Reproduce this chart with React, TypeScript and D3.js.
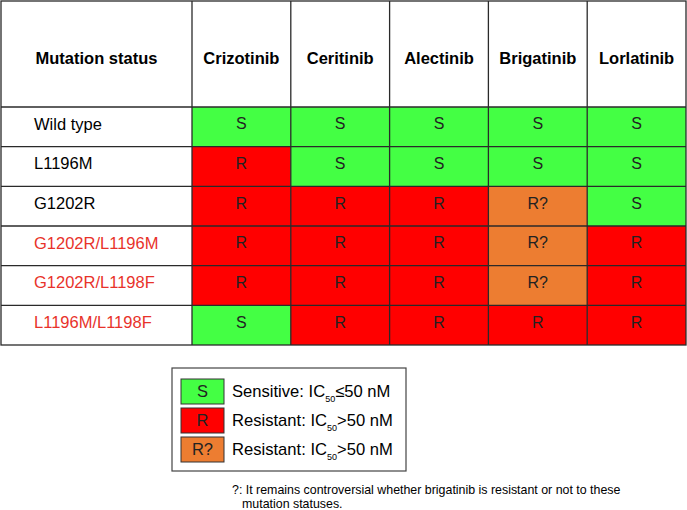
import React from "react";
import * as d3 from "d3";

const drugs = ["Crizotinib", "Ceritinib", "Alectinib", "Brigatinib", "Lorlatinib"];
const mutations = ["Wild type", "L1196M", "G1202R", "G1202R/L1196M", "G1202R/L1198F", "L1196M/L1198F"];
const compound = [false, false, false, true, true, true];
const statuses: string[][] = [
  ["S", "S", "S", "S", "S"],
  ["R", "S", "S", "S", "S"],
  ["R", "R", "R", "R?", "S"],
  ["R", "R", "R", "R?", "R"],
  ["R", "R", "R", "R?", "R"],
  ["S", "R", "R", "R", "R"],
];
const legendKeys = ["S", "R", "R?"];
const legendLabels = ["Sensitive: IC", "Resistant: IC", "Resistant: IC"];
const legendOps = ["≤50 nM", ">50 nM", ">50 nM"];
const footnoteLines = [
  "?: It remains controversial whether brigatinib is resistant or not to these",
  "mutation statuses.",
];

const colorOf: Record<string, string> = { S: "#44ff44", R: "#ff0000", "R?": "#ed7d31" };
const FONT = "'Liberation Sans', Arial, sans-serif";

export default function App() {
  const W = 687, H = 510;
  const left = 1, labelRight = 192, right = 686;
  const top = 1, headBottom = 107, bottom = 345;
  const x = d3.scaleBand<string>().domain(drugs).range([labelRight, right]);
  const y = d3.scaleBand<string>().domain(mutations).range([headBottom, bottom]);
  const ly = d3.scaleBand<string>().domain(legendKeys).range([379, 462]).paddingInner(4 / 29);
  const lineColor = "#2a2a2a";
  const headY = 58;
  const rowOff = -3;

  return (
    <div style={{ position: "absolute", left: 0, top: 0 }}>
      <svg width={W} height={H} style={{ display: "block", background: "#fff", fontFamily: FONT }}>
        {/* cells */}
        {mutations.map((m, i) =>
          drugs.map((d, j) => (
            <rect key={m + d} x={x(d)} y={y(m)} width={x.bandwidth()} height={y.bandwidth()}
              fill={colorOf[statuses[i][j]]} />
          ))
        )}
        {/* grid lines */}
        <rect x={left} y={top} width={right - left} height={bottom - top} fill="none" stroke={lineColor} strokeWidth={1.3} />
        {[headBottom, ...mutations.slice(1).map((m) => y(m)!)].map((yy, i) => (
          <line key={"h" + i} x1={left} x2={right} y1={yy} y2={yy} stroke={lineColor} strokeWidth={1.3} />
        ))}
        {drugs.map((d) => (
          <line key={"v" + d} x1={x(d)} x2={x(d)} y1={top} y2={bottom} stroke={lineColor} strokeWidth={1.3} />
        ))}
        {/* header */}
        <text x={(left + labelRight) / 2} y={headY} dy="0.35em" textAnchor="middle"
          fontWeight="bold" fontSize={16.5} fill="#000">Mutation status</text>
        {drugs.map((d) => (
          <text key={"t" + d} x={x(d)! + x.bandwidth() / 2} y={headY} dy="0.35em"
            textAnchor="middle" fontWeight="bold" fontSize={16.5} fill="#000">{d}</text>
        ))}
        {/* row labels */}
        {mutations.map((m, i) => (
          <text key={"r" + m} x={34} y={y(m)! + y.bandwidth() / 2 + rowOff} dy="0.35em" fontSize={16.5}
            fill={compound[i] ? "#e8322a" : "#000"}>{m}</text>
        ))}
        {/* cell letters */}
        {mutations.map((m, i) =>
          drugs.map((d, j) => (
            <text key={"c" + m + d} x={x(d)! + x.bandwidth() / 2} y={y(m)! + y.bandwidth() / 2 + rowOff} dy="0.35em"
              textAnchor="middle" fontSize={16} fill="#222">{statuses[i][j]}</text>
          ))
        )}
        {/* legend */}
        <rect x={172} y={368} width={234} height={103} fill="#fff" stroke="#444" strokeWidth={1.2} />
        {legendKeys.map((k, i) => {
          const base = ly(k)! + ly.bandwidth() / 2 + 5;
          return (
            <g key={"l" + k}>
              <rect x={181} y={ly(k)} width={43} height={ly.bandwidth()} fill={colorOf[k]} stroke="#333" strokeWidth={1} />
              <text x={202.5} y={ly(k)! + ly.bandwidth() / 2} dy="0.35em" textAnchor="middle" fontSize={16.5} fill="#222">{k}</text>
              <text x={232} y={base} fontSize={16.6} fill="#000">
                {legendLabels[i]}
                <tspan fontSize={9} dy={5}>50</tspan>
                <tspan dy={-5}>{legendOps[i]}</tspan>
              </text>
            </g>
          );
        })}
        {/* footnote */}
        <text x={232} y={494} fontSize={12.4} fill="#000">{footnoteLines[0]}</text>
        <text x={242} y={508} fontSize={12.4} fill="#000">{footnoteLines[1]}</text>
      </svg>
    </div>
  );
}
